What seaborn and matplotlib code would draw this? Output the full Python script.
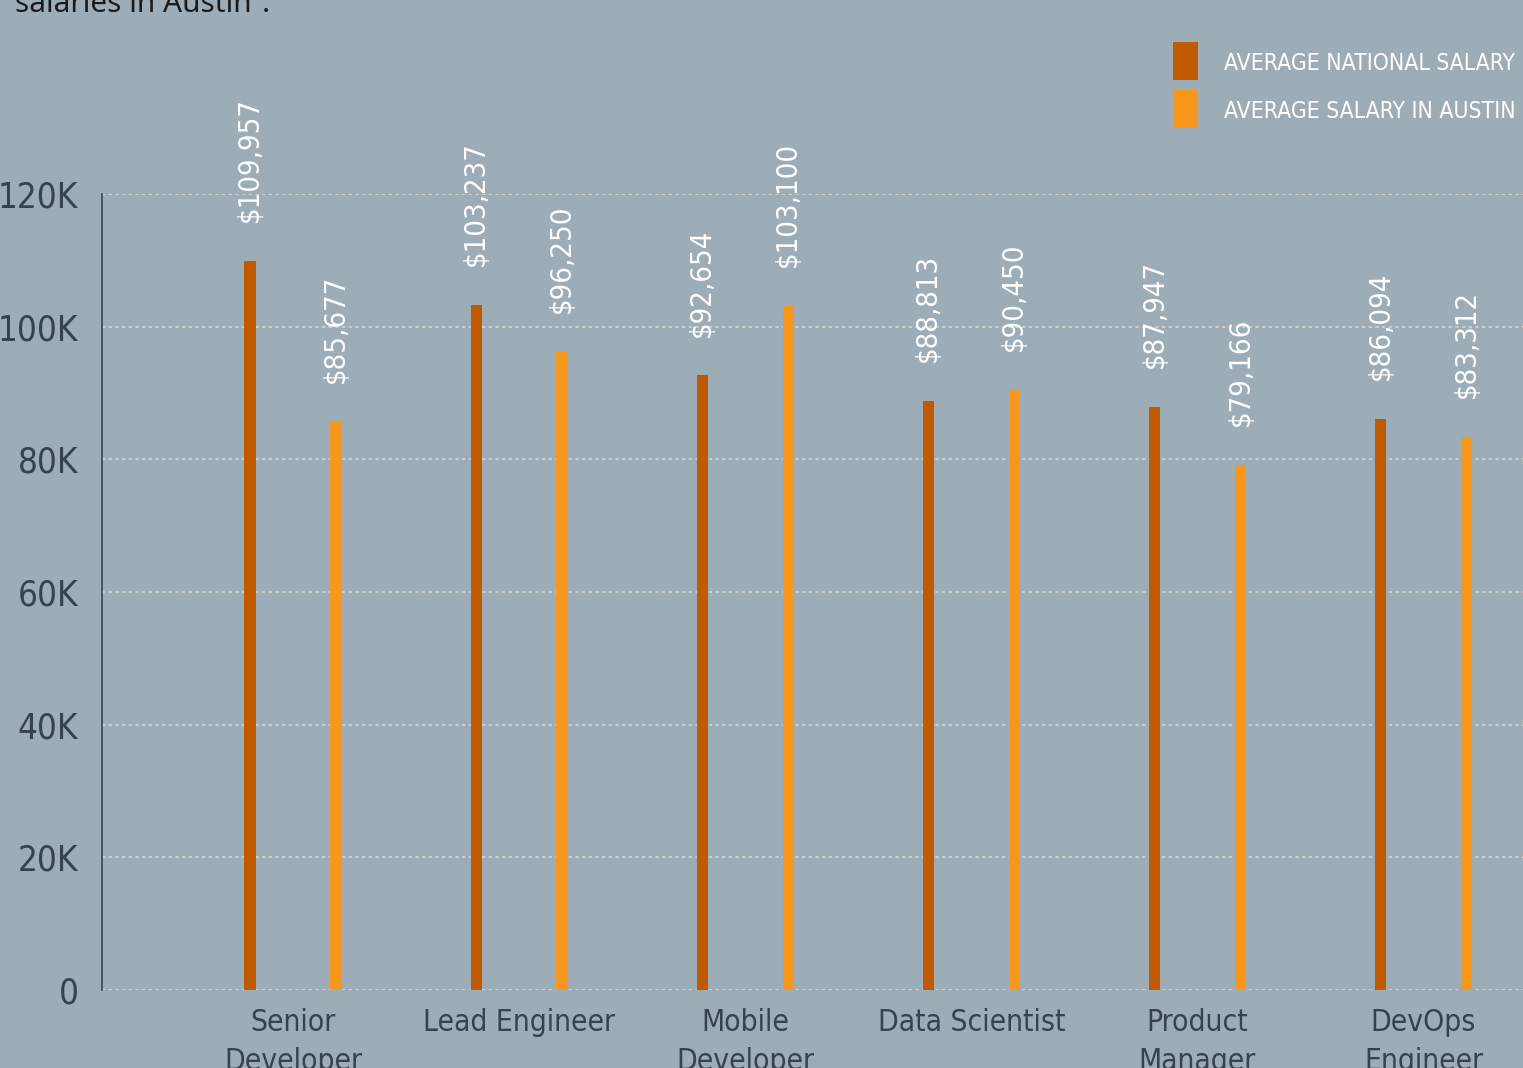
import pandas as pd
import numpy as np
import matplotlib.pyplot as plt
import seaborn as sns
from matplotlib.patches import Rectangle
from matplotlib import font_manager as fm

import warnings
warnings.filterwarnings('ignore')

# chart data
jobs = ["Senior\nDeveloper", "Lead Engineer", "Mobile\nDeveloper",
        "Data Scientist", "Product\nManager", "DevOps\nEngineer"]
national_salary = [109957, 103237, 92654, 88813, 87947, 86094]
austin_salary = [85677, 96250, 103100, 90450, 79166, 83312]
series_names = ["AVERAGE NATIONAL SALARY", "AVERAGE SALARY IN AUSTIN"]
y_ticks = [0, 20000, 40000, 60000, 80000, 100000, 120000]
y_tick_labels = ["0", "20K", "40K", "60K", "80K", "100K", "120K"]

bg = "#9dadb7"
dark = "#36434e"
colors = ["#c05a00", "#f7971e"]

# look for a narrow sans face among the installed fonts (DejaVu Sans Condensed here)
cands = []
for f in fm.fontManager.ttflist:
    tag = (f.name + " " + str(f.stretch) + " " + f.fname).lower()
    if ("condensed" in tag or "narrow" in tag) and f.style == "normal" \
            and f.weight in (400, "normal", "regular") and "mono" not in tag and "serif" not in f.name.lower():
        cands.append(f)
cands.sort(key=lambda f: ("semi" in f.fname.lower(), "extra" in f.fname.lower(), f.fname))
narrow_file = cands[0].fname if cands else None


def nfont(size):
    if narrow_file:
        return fm.FontProperties(fname=narrow_file, size=size)
    return fm.FontProperties(family="Roboto", size=size * 0.9)


df = pd.DataFrame({
    "job": jobs * 2,
    "salary": national_salary + austin_salary,
    "series": [series_names[0]] * len(jobs) + [series_names[1]] * len(jobs),
})

sns.set_style("white")

fig = plt.figure(figsize=(15.23, 10.68), dpi=100, facecolor=bg)
ax = fig.add_axes([102 / 1523, 78 / 1068, 1 - 102 / 1523, (990 - 194) / 1068])
ax.set_facecolor(bg)

sns.barplot(data=df, x="job", y="salary", hue="series", palette=colors,
            width=0.76, dodge=True, ax=ax, legend=False, saturation=1)

# make the bars thin, keeping their centres
bar_w = 0.05
for p in ax.patches:
    cx = p.get_x() + p.get_width() / 2
    p.set_width(bar_w)
    p.set_x(cx - bar_w / 2)
    p.set_linewidth(0)

# value labels above bars
for p in ax.patches:
    h = p.get_height()
    if h <= 0:
        continue
    ax.annotate(f"${h:,.0f}", (p.get_x() + p.get_width() / 2, h),
                xytext=(0, 28), textcoords="offset points",
                rotation=90, ha="center", va="bottom",
                color="white", fontproperties=nfont(21), clip_on=False)

ax.set_xlim(-0.845, 5.44)
ax.set_ylim(0, 120000)
ax.set_yticks(y_ticks)
ax.set_yticklabels(y_tick_labels, color=dark)
for lbl in ax.get_yticklabels():
    lbl.set_fontproperties(nfont(25))
ax.tick_params(axis="y", length=0, pad=17)
ax.tick_params(axis="x", length=0, pad=13, labelcolor=dark)
for lbl in ax.get_xticklabels():
    lbl.set_fontproperties(nfont(21.5))
    lbl.set_linespacing(1.45)
    lbl.set_verticalalignment("top")
ax.set_xlabel("")
ax.set_ylabel("")

ax.yaxis.grid(True, linestyle=(0, (2, 2)), color="#d6d6cc", linewidth=1.2)
ax.set_axisbelow(True)
for s in ["top", "right", "bottom"]:
    ax.spines[s].set_visible(False)
ax.spines["left"].set_color("#3a4650")
ax.spines["left"].set_linewidth(1.2)

# legend drawn by hand in the top right corner
for i, name in enumerate(series_names):
    y0 = 1068 - 80 - i * 48
    fig.add_artist(Rectangle((1173 / 1523, y0 / 1068), 25 / 1523, 38 / 1068,
                             transform=fig.transFigure, color=colors[i], lw=0))
    fig.text(1224 / 1523, (y0 + 17) / 1068, name, color="white",
             va="center", ha="left", fontproperties=nfont(16.5))

# tail of the intro sentence, cut at the top of the picture
fig.text(15 / 1523, 1 - 12 / 1068, "salaries in Austin\u2075.", fontsize=21.5,
         color="#1a1a1a", va="baseline", ha="left", family=["Noto Sans", "DejaVu Sans"])

fig.savefig("out.png", dpi=100, facecolor=bg)
